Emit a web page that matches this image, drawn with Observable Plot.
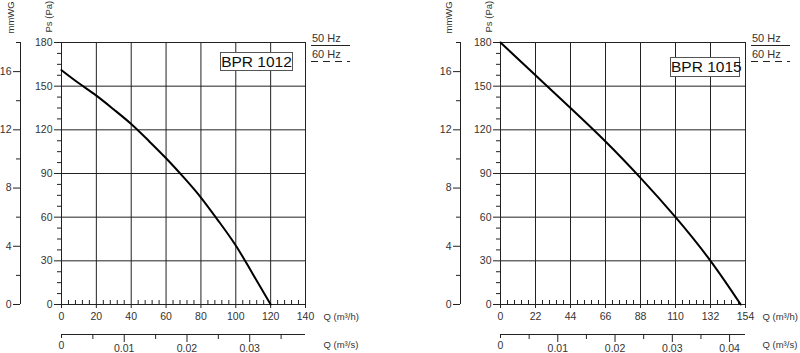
<!DOCTYPE html>
<html><head><meta charset="utf-8">
<script src="https://cdn.jsdelivr.net/npm/d3@7"></script>
<script src="https://cdn.jsdelivr.net/npm/@observablehq/plot@0.6"></script>
<style>
body{margin:0;background:#fff;font-family:"Liberation Sans",Arial,sans-serif;}
#wrap{position:relative;width:800px;height:353px;overflow:hidden;background:#fff}
.panel{position:absolute;top:0;width:400px;height:353px}
.box{position:absolute;border:1px solid #555;background:#fff;font-size:15.5px;color:#111;text-align:center;box-sizing:border-box;line-height:18px;white-space:nowrap}
.legend{position:absolute;overflow:visible}
</style></head><body><div id="wrap"></div>
<script>
// ---- data ----
const models = ["BPR 1012", "BPR 1015"];
const q1012 = [0, 10, 20, 30, 40, 50, 60, 70, 80, 90, 100, 110, 120];
const ps1012 = [161, 152, 143.5, 134, 124, 112.5, 100.5, 87.5, 73.5, 57.5, 40.5, 20.5, 0];
const q1015 = [0, 22, 44, 66, 88, 110, 132, 151];
const ps1015 = [180, 157.5, 135, 112, 87, 60, 30, 0];
const xTicks1012 = [0, 20, 40, 60, 80, 100, 120, 140];
const xTicks1015 = [0, 22, 44, 66, 88, 110, 132, 154];
const psTicks = [0, 30, 60, 90, 120, 150, 180];
const mmwgTicks = [0, 4, 8, 12, 16];
const mmwgMinor = [2, 6, 10, 14, 18];
const qsTicks1012 = [0, 0.01, 0.02, 0.03];
const qsTicks1015 = [0, 0.01, 0.02, 0.03, 0.04];
const qsMinor = [0.005, 0.015, 0.025, 0.035];
const legendLabels = ["50 Hz", "60 Hz"];
const axisTitles = {qh: "Q (m³/h)", qs: "Q (m³/s)", ps: "Ps (Pa)", mm: "mmWG"};
const PA_PER_MM = 10;   // scale used on drawing
const H_PER_S = 3600;

function subdivide(ticks, n) {
  const out = [];
  for (let i = 0; i < ticks.length - 1; i++)
    for (let j = 1; j < n; j++) out.push(ticks[i] + (ticks[i + 1] - ticks[i]) * j / n);
  return out;
}
const fmtS = d => d === 0 ? "0" : String(+(d / H_PER_S).toFixed(3));

function chart(cfg) {
  const data = cfg.q.map((q, i) => ({q, ps: cfg.ps[i]}));
  const xMax = cfg.xTicks[cfg.xTicks.length - 1];
  const ink = "#222";
  return Plot.plot({
    width: 400, height: 353,
    marginLeft: cfg.ml, marginRight: cfg.mr, marginTop: 42, marginBottom: 49,
    style: {fontFamily: "Liberation Sans, Arial, sans-serif", fontSize: "10.5px", color: "#333", background: "#fff", overflow: "visible"},
    x: {domain: [0, xMax], axis: null},
    y: {domain: [0, 180], axis: null},
    marks: [
      Plot.gridX(cfg.xTicks, {stroke: ink, strokeOpacity: 1}),
      Plot.gridY(psTicks, {stroke: ink, strokeOpacity: 1}),
      Plot.axisX(cfg.xTicks, {tickSize: 4, tickPadding: 4, label: null, stroke: ink}),
      Plot.axisX(subdivide(cfg.xTicks, 5), {tickSize: 4, dy: -4, tickFormat: () => "", label: null, stroke: ink}),
      Plot.axisY(psTicks, {tickSize: 7, tickPadding: 2, label: null, stroke: ink}),
      Plot.axisY(subdivide(psTicks, 4), {tickSize: 4, tickFormat: () => "", label: null, stroke: ink}),
      // mmWG axis
      Plot.ruleX([0], {y1: 0, y2: 180, dx: cfg.mmDx, stroke: ink}),
      Plot.axisY(mmwgTicks.map(d => d * PA_PER_MM), {tickSize: 7, tickPadding: 2, dx: cfg.mmDx, tickFormat: d => String(Math.round(d / PA_PER_MM)), label: null, stroke: ink}),
      Plot.axisY(mmwgMinor.map(d => d * PA_PER_MM), {tickSize: 4, dx: cfg.mmDx, tickFormat: () => "", label: null, stroke: ink}),
      // m3/s axis
      Plot.ruleY([0], {x1: 0, x2: xMax, dy: 30, stroke: ink}),
      Plot.axisX(cfg.qs.slice(0, 1).map(d => d * H_PER_S), {tickSize: 4, tickPadding: 3, dy: 30, tickFormat: fmtS, label: null, stroke: ink}),
      Plot.axisX(cfg.qs.slice(1).map(d => d * H_PER_S), {tickSize: 8, tickPadding: 2, dy: 30, tickFormat: fmtS, label: null, stroke: ink}),
      Plot.axisX(qsMinor.map(d => d * H_PER_S), {tickSize: 5, dy: 30, tickFormat: () => "", label: null, stroke: ink}),
      // curve
      Plot.line(data, {x: "q", y: "ps", curve: "natural", stroke: "#000", strokeWidth: 2}),
      // titles
      Plot.text([axisTitles.qh], {frameAnchor: "bottom-right", dx: cfg.qDx, dy: 15, textAnchor: "start", fontSize: 9.5}),
      Plot.text([axisTitles.qs], {frameAnchor: "bottom-right", dx: cfg.qDx, dy: 43, textAnchor: "start", fontSize: 9.5}),
      Plot.text([axisTitles.ps], {frameAnchor: "top-left", dx: cfg.psDx, dy: -10, rotate: -90, textAnchor: "start", fontSize: 9.5}),
      Plot.text([axisTitles.mm], {frameAnchor: "top-left", dx: cfg.mmTitleDx, dy: -9, rotate: -90, textAnchor: "start", fontSize: 9.5})
    ]
  });
}

function legendSvg() {
  const ns = "http://www.w3.org/2000/svg";
  const svg = document.createElementNS(ns, "svg");
  svg.setAttribute("width", 45); svg.setAttribute("height", 36);
  svg.setAttribute("class", "legend");
  const dashes = [null, "7,5"];
  legendLabels.forEach((lab, i) => {
    const t = document.createElementNS(ns, "text");
    t.setAttribute("x", 2); t.setAttribute("y", 11.5 + i * 16);
    t.setAttribute("font-size", "11"); t.setAttribute("fill", "#333");
    t.setAttribute("font-family", "Liberation Sans, Arial, sans-serif");
    t.textContent = lab;
    svg.appendChild(t);
    const l = document.createElementNS(ns, "line");
    l.setAttribute("x1", 1); l.setAttribute("x2", 40);
    l.setAttribute("y1", 15.5 + i * 16); l.setAttribute("y2", 15.5 + i * 16);
    l.setAttribute("stroke", "#222"); l.setAttribute("stroke-width", 1);
    if (dashes[i]) l.setAttribute("stroke-dasharray", dashes[i]);
    svg.appendChild(l);
  });
  return svg;
}

const wrap = document.getElementById("wrap");
const cfgs = [
  {q: q1012, ps: ps1012, xTicks: xTicks1012, qs: qsTicks1012, ml: 61, mr: 95, mmDx: -41, psDx: -16, mmTitleDx: -54, qDx: 18,
   box: {left: 220, top: 52, width: 73, height: 19}, leg: {left: 310, top: 30}},
  {q: q1015, ps: ps1015, xTicks: xTicks1015, qs: qsTicks1015, ml: 100, mr: 55, mmDx: -40, psDx: -15, mmTitleDx: -55, qDx: 17,
   box: {left: 270, top: 57, width: 70, height: 20}, leg: {left: 350, top: 30}}
];
cfgs.forEach((cfg, i) => {
  const panel = document.createElement("div");
  panel.className = "panel";
  panel.style.left = (i * 400) + "px";
  panel.appendChild(chart(cfg));
  const box = document.createElement("div");
  box.className = "box";
  Object.assign(box.style, {left: cfg.box.left + "px", top: cfg.box.top + "px", width: cfg.box.width + "px", height: cfg.box.height + "px"});
  box.textContent = models[i];
  panel.appendChild(box);
  const lg = legendSvg();
  lg.style.left = cfg.leg.left + "px"; lg.style.top = cfg.leg.top + "px";
  panel.appendChild(lg);
  wrap.appendChild(panel);
});
</script></body></html>
